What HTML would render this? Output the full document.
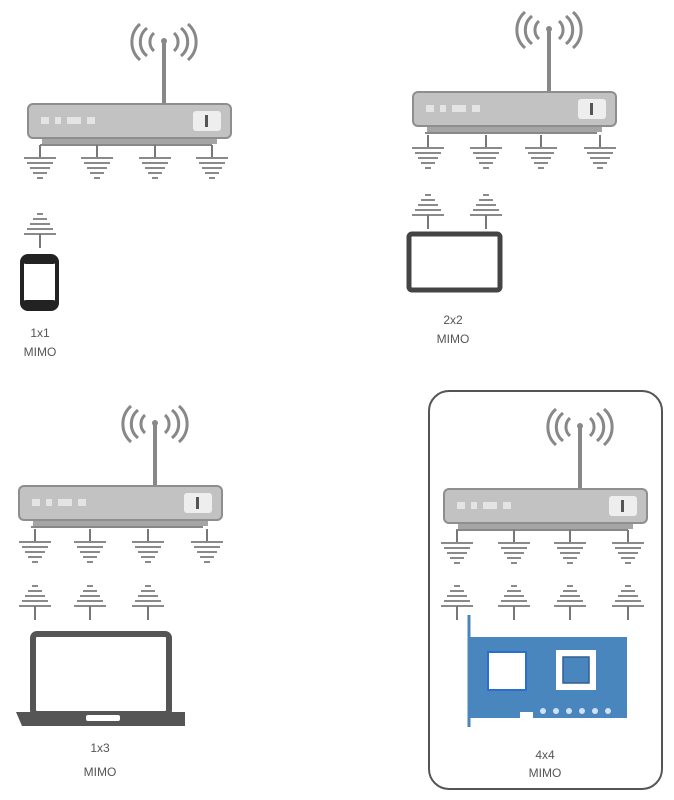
<!DOCTYPE html>
<html><head><meta charset="utf-8"><style>
html,body{margin:0;padding:0;background:#fff;width:674px;height:800px;overflow:hidden}
svg{display:block}
text{font-family:"Liberation Sans",sans-serif;font-size:12px;fill:#555;text-anchor:middle}
</style></head><body>
<svg width="674" height="800" viewBox="0 0 674 800">
<defs>
<g id="gnd">
<line x1="0" y1="0" x2="0" y2="12" stroke="#777" stroke-width="2"/>
<g stroke="#8a8a8a" stroke-width="2">
<line x1="-16" y1="13" x2="16" y2="13"/><line x1="-13" y1="18" x2="13" y2="18"/>
<line x1="-10" y1="23" x2="10" y2="23"/><line x1="-7" y1="28" x2="7" y2="28"/><line x1="-3" y1="33" x2="3" y2="33"/>
</g></g>
<g id="up">
<g stroke="#8a8a8a" stroke-width="2">
<line x1="-3" y1="0" x2="3" y2="0"/><line x1="-7" y1="5" x2="7" y2="5"/><line x1="-10" y1="10" x2="10" y2="10"/>
<line x1="-13" y1="15" x2="13" y2="15"/><line x1="-16" y1="20" x2="16" y2="20"/>
</g>
<line x1="0" y1="20" x2="0" y2="34" stroke="#777" stroke-width="2"/></g>
<g id="router">
<line x1="137" y1="-62" x2="137" y2="0" stroke="#888" stroke-width="4"/>
<g fill="none" stroke="#888" stroke-width="3">
<path d="M127,-70 a12,12 0 0 0 0,18"/><path d="M147,-70 a12,12 0 0 1 0,18"/>
<path d="M120,-75 a18,18 0 0 0 0,28"/><path d="M154,-75 a18,18 0 0 1 0,28"/>
<path d="M113,-79 a24,24 0 0 0 0,36"/><path d="M161,-79 a24,24 0 0 1 0,36"/>
</g>
<circle cx="137" cy="-62" r="3" fill="#888"/>
<rect x="15" y="33" width="175" height="8" fill="#a5a5a5"/>
<rect x="1" y="1" width="203" height="34" rx="5" fill="#c2c2c2" stroke="#8e8e8e" stroke-width="2"/>
<g fill="#e4e4e4"><rect x="14" y="14" width="8" height="7"/><rect x="28" y="14" width="6" height="7"/><rect x="40" y="14" width="14" height="7"/><rect x="60" y="14" width="8" height="7"/></g>
<rect x="166" y="8" width="28" height="20" rx="3" fill="#eee"/>
<rect x="178" y="12" width="3" height="12" fill="#555"/>
<line x1="13" y1="42" x2="185" y2="42" stroke="#888" stroke-width="2"/>
</g>
</defs>

<!-- Router 1 -->
<use href="#router" x="27" y="103"/>
<use href="#gnd" x="40" y="145"/><use href="#gnd" x="97" y="145"/><use href="#gnd" x="155" y="145"/><use href="#gnd" x="212" y="145"/>
<use href="#up" x="40" y="214"/>
<rect x="22" y="256" width="35" height="53" rx="6" fill="#fff" stroke="#222" stroke-width="4"/>
<rect x="22" y="256" width="35" height="8" rx="4" fill="#222"/><rect x="22" y="300" width="35" height="9" rx="4" fill="#222"/>
<text x="40" y="337">1x1</text><text x="40" y="356">MIMO</text>

<!-- Router 2 -->
<use href="#router" x="412" y="91"/>
<use href="#gnd" x="428" y="135"/><use href="#gnd" x="486" y="135"/><use href="#gnd" x="541" y="135"/><use href="#gnd" x="600" y="135"/>
<use href="#up" x="428" y="195"/><use href="#up" x="486" y="195"/>
<rect x="409" y="234" width="91" height="56" rx="3" fill="#fff" stroke="#444" stroke-width="5"/>
<text x="453" y="324">2x2</text><text x="453" y="343">MIMO</text>

<!-- Router 3 -->
<use href="#router" x="18" y="485"/>
<use href="#gnd" x="35" y="529"/><use href="#gnd" x="90" y="529"/><use href="#gnd" x="148" y="529"/><use href="#gnd" x="207" y="529"/>
<use href="#up" x="35" y="586"/><use href="#up" x="90" y="586"/><use href="#up" x="148" y="586"/>
<rect x="33" y="634" width="136" height="80" rx="4" fill="#fff" stroke="#555" stroke-width="6"/>
<path d="M16,712 L185,712 L185,726 L22,726 Z" fill="#555"/>
<rect x="86" y="715" width="34" height="6" rx="2" fill="#fff"/>
<text x="100" y="752">1x3</text><text x="100" y="776">MIMO</text>

<!-- Router 4 -->
<rect x="429" y="391" width="233" height="398" rx="20" fill="none" stroke="#555" stroke-width="2"/>
<use href="#router" x="443" y="488"/>
<use href="#gnd" x="457" y="530"/><use href="#gnd" x="514" y="530"/><use href="#gnd" x="570" y="530"/><use href="#gnd" x="628" y="530"/>
<use href="#up" x="457" y="586"/><use href="#up" x="514" y="586"/><use href="#up" x="570" y="586"/><use href="#up" x="628" y="586"/>
<line x1="469" y1="615" x2="469" y2="727" stroke="#4a86be" stroke-width="3"/>
<path d="M470,637 L627,637 L627,718 L533,718 L533,712 L520,712 L520,718 L470,718 Z" fill="#4a86be"/>
<rect x="488" y="652" width="38" height="38" fill="#fff" stroke="#2a6fd0" stroke-width="2"/>
<rect x="556" y="650" width="40" height="40" fill="#fff"/>
<rect x="563" y="657" width="26" height="26" fill="#4a86be" stroke="#2f5f90" stroke-width="1.5"/>
<g fill="#cfe2f5"><circle cx="543" cy="711" r="3"/><circle cx="556" cy="711" r="3"/><circle cx="569" cy="711" r="3"/><circle cx="582" cy="711" r="3"/><circle cx="595" cy="711" r="3"/><circle cx="608" cy="711" r="3"/></g>
<text x="545" y="759">4x4</text><text x="545" y="777">MIMO</text>
</svg>
</body></html>
